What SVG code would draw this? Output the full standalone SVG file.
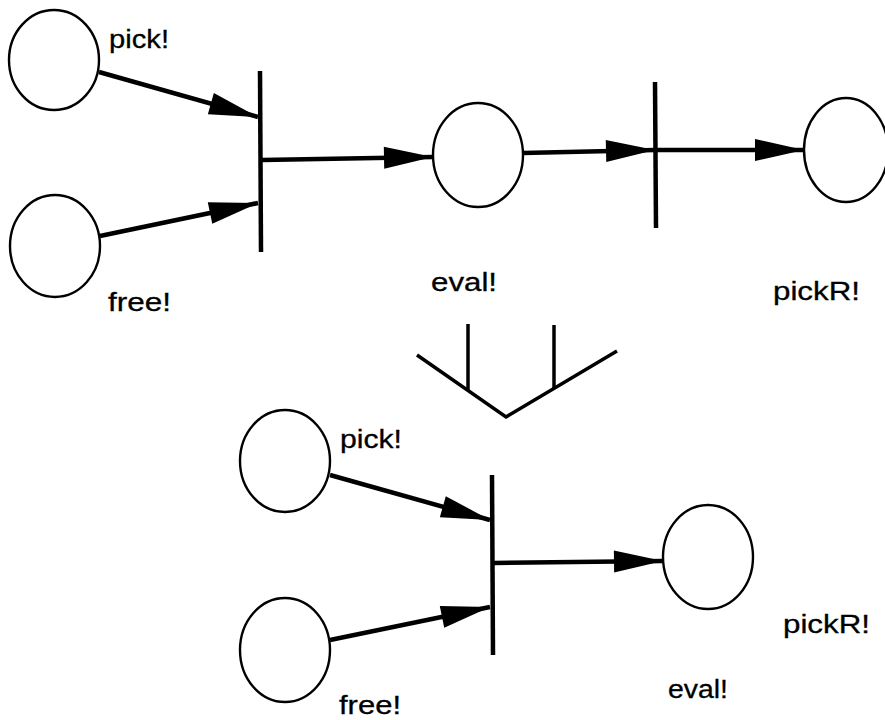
<svg xmlns="http://www.w3.org/2000/svg" width="885" height="720" viewBox="0 0 885 720">
  <style>
    .place { fill: #fff; stroke: #000; stroke-width: 2.4; }
    .bar { stroke: #000; stroke-width: 4.5; stroke-linecap: butt; }
    .arc { stroke: #000; stroke-width: 4.5; fill: none; marker-end: url(#head); }
    .fold { stroke: #000; stroke-width: 3.5; fill: none; stroke-linejoin: miter; }
    .lbl { font-family: "Liberation Sans", Arial, Helvetica, sans-serif; font-size: 26px; fill: #000; stroke: #000; stroke-width: 0.3; }
  </style>
  <defs>
    <marker id="head" markerUnits="userSpaceOnUse" markerWidth="52" markerHeight="24" refX="49" refY="11" orient="auto" overflow="visible">
      <path d="M0,0 L49,11 L0,22 Z" fill="#000"/>
    </marker>
  </defs>
  <rect width="885" height="720" fill="#fff"/>

  <!-- connectors -->
  <g id="connectors">
    <!-- upper net -->
    <line class="arc" x1="99" y1="72" x2="258" y2="117"/>
    <line class="arc" x1="100" y1="236" x2="258" y2="203"/>
    <line class="arc" x1="262" y1="160" x2="433" y2="157"/>
    <line class="arc" x1="523" y1="153" x2="655" y2="150"/>
    <line class="arc" x1="655" y1="150" x2="804" y2="150"/>
    <!-- lower net -->
    <line class="arc" x1="330" y1="475" x2="490" y2="520"/>
    <line class="arc" x1="330" y1="640" x2="490" y2="607"/>
    <line class="arc" x1="494" y1="563" x2="663" y2="561"/>
  </g>

  <!-- upper net -->
  <g id="p-pick">
    <ellipse class="place" cx="54" cy="60" rx="45" ry="50"/>
    <text class="lbl" x="109" y="48" textLength="60" lengthAdjust="spacingAndGlyphs">pick!</text>
  </g>
  <g id="p-free">
    <ellipse class="place" cx="55" cy="246" rx="45" ry="51"/>
    <text class="lbl" x="108" y="311" textLength="63" lengthAdjust="spacingAndGlyphs">free!</text>
  </g>
  <g id="t-join">
    <line class="bar" x1="260" y1="71" x2="261" y2="252"/>
  </g>
  <g id="p-eval">
    <ellipse class="place" cx="478" cy="155" rx="45" ry="52"/>
    <text class="lbl" x="431" y="291" textLength="66" lengthAdjust="spacingAndGlyphs">eval!</text>
  </g>
  <g id="t-eval">
    <line class="bar" x1="655" y1="82" x2="656" y2="228"/>
  </g>
  <g id="p-pickR">
    <ellipse class="place" cx="846" cy="150" rx="42" ry="52"/>
    <text class="lbl" x="773" y="300" textLength="87" lengthAdjust="spacingAndGlyphs">pickR!</text>
  </g>

  <!-- reduction symbol -->
  <g id="reduce">
    <polyline class="fold" points="417,355 506,417 617,351"/>
    <line class="fold" x1="468" y1="324" x2="468" y2="390"/>
    <line class="fold" x1="554" y1="325" x2="554" y2="388"/>
  </g>

  <!-- lower net -->
  <g id="q-pick">
    <ellipse class="place" cx="285" cy="461" rx="45" ry="51"/>
    <text class="lbl" x="340" y="448" textLength="62" lengthAdjust="spacingAndGlyphs">pick!</text>
  </g>
  <g id="q-free">
    <ellipse class="place" cx="285" cy="650" rx="45" ry="52"/>
    <text class="lbl" x="339" y="714" textLength="62" lengthAdjust="spacingAndGlyphs">free!</text>
  </g>
  <g id="u-join">
    <line class="bar" x1="492" y1="475" x2="493" y2="655"/>
  </g>
  <g id="q-eval">
    <ellipse class="place" cx="708" cy="557" rx="45" ry="52"/>
    <text class="lbl" x="668" y="698" textLength="60" lengthAdjust="spacingAndGlyphs">eval!</text>
  </g>
  <g id="q-pickR">
    <text class="lbl" x="783" y="633" textLength="87" lengthAdjust="spacingAndGlyphs">pickR!</text>
  </g>
</svg>
